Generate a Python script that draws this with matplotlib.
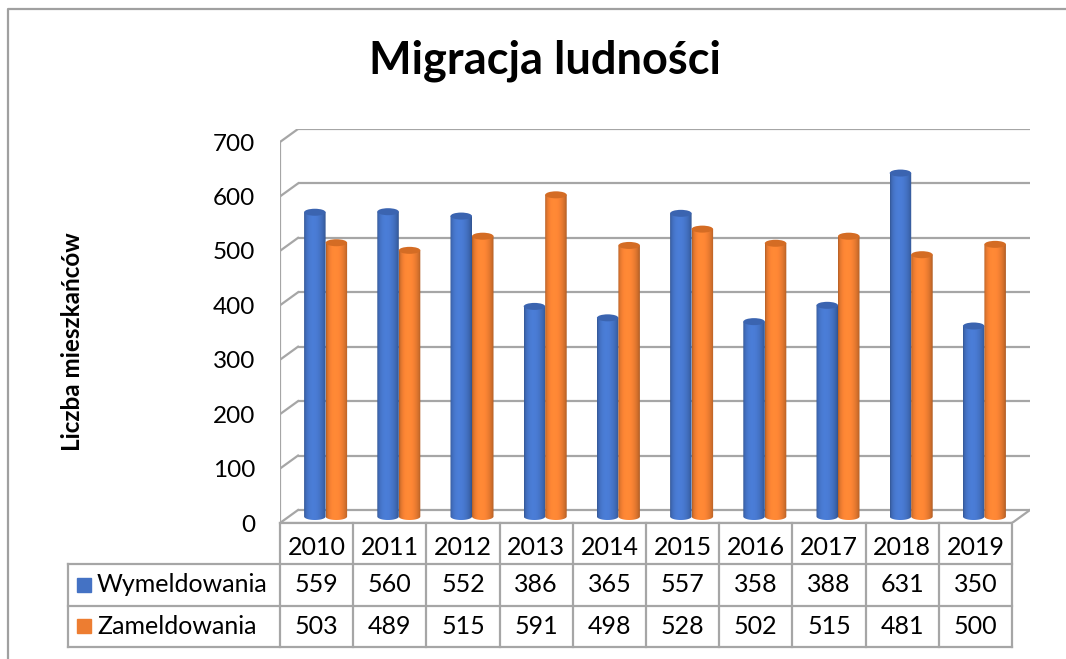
import numpy as np
import matplotlib
matplotlib.use("Agg")
import matplotlib.pyplot as plt
from matplotlib.patches import Ellipse, PathPatch
from matplotlib.path import Path
from matplotlib.lines import Line2D
from matplotlib.colors import to_rgb

plt.rcParams['font.family'] = ['Lato', 'DejaVu Sans']

# dane
lata = ['2010', '2011', '2012', '2013', '2014', '2015', '2016', '2017', '2018', '2019']
wymeldowania = [559, 560, 552, 386, 365, 557, 358, 388, 631, 350]
zameldowania = [503, 489, 515, 591, 498, 528, 502, 515, 481, 500]
serie = ['Wymeldowania', 'Zameldowania']
kolory = ['#4472C4', '#ED7D31']
kolory_gora = ['#3b64b0', '#d46c24']
osie_y = [0, 100, 200, 300, 400, 500, 600, 700]

W, H = 1066, 659
fig = plt.figure(figsize=(W / 100, H / 100), dpi=100)

# obszar wykresu (piksele -> ulamki figury)
L, R, T, B = 280, 1030, 129, 523
ax = fig.add_axes([L / W, 1 - B / H, (R - L) / W, (B - T) / H])
ax.set_facecolor('none')

px_x = 73.2                      # pikseli na kategorie
DX = 18 / px_x                   # glebokosc w jednostkach x
px_y = (B - T) / 723.9
DY = 13 / px_y                   # glebokosc w jednostkach y
EH = 7 / px_y                    # wysokosc elipsy
szer = 21.5 / px_x               # szerokosc walca

szary = '#a6a6a6'
lw = 1.6
n = len(lata)

# siatka na tylnej scianie + lewa sciana
for v in osie_y:
    ax.plot([DX, n + DX], [v, v], color=szary, lw=lw, zorder=1, solid_capstyle='butt')
    ax.plot([0, DX], [v - DY, v], color=szary, lw=lw, zorder=1)
ax.plot([0, 0], [-DY, 700 - DY], color=szary, lw=lw, zorder=1)
ax.plot([0, n], [-DY, -DY], color=szary, lw=lw, zorder=1)
ax.plot([n, n + DX], [-DY, 0], color=szary, lw=lw, zorder=1)

# cieniowanie walca
t = np.linspace(0, 1, 64)
f = 0.70 + 0.40 * np.sin(np.pi * t ** 0.8) ** 0.6


def walec(xc, wartosc, kolor, kolor_gory, z):
    y0 = -DY / 2
    y1 = wartosc - DY / 2
    x0, x1 = xc - szer / 2, xc + szer / 2
    kat = np.linspace(np.pi, 2 * np.pi, 30)
    dol = np.column_stack([xc + szer / 2 * np.cos(kat), y0 + EH / 2 * np.sin(kat)])
    wierz = np.vstack([[x0, y1], dol, [x1, y1], [x0, y1]])
    patch = PathPatch(Path(wierz), facecolor='none', edgecolor='none')
    ax.add_patch(patch)
    rgb = np.clip(np.array(to_rgb(kolor))[None, :] * f[:, None], 0, 1)
    img = ax.imshow(rgb[None, :, :], extent=(x0, x1, y0 - EH, y1), aspect='auto',
                    interpolation='bicubic', zorder=z)
    img.set_clip_path(patch)
    ax.add_patch(Ellipse((xc, y1), szer, EH, facecolor=kolor_gory, edgecolor='none', zorder=z + 0.1))


for i in range(n):
    srodek = i + 0.5 + DX / 2
    walec(srodek - szer / 2, wymeldowania[i], kolory[0], kolory_gora[0], 3)
    walec(srodek + szer / 2, zameldowania[i], kolory[1], kolory_gora[1], 3.5)

ax.set_xlim(0, n + DX)
ax.set_ylim(-DY, 700)
for s in ax.spines.values():
    s.set_visible(False)
ax.set_xticks([])
ax.set_yticks([v - DY for v in osie_y])
ax.set_yticklabels([str(v) for v in osie_y], fontsize=17.5)
ax.tick_params(axis='y', length=0, pad=18)

# tabela danych
TL, TR, TT, TB = 68, 1012, 523, 647
tx = fig.add_axes([TL / W, 1 - TB / H, (TR - TL) / W, (TB - TT) / H])
lewo = -(L - TL) / px_x
tx.set_xlim(lewo, n)
tx.set_ylim(3, 0)
tx.axis('off')
for i in range(n + 1):
    tx.plot([i, i], [0, 3], color=szary, lw=lw, clip_on=False)
tx.plot([lewo, lewo], [1, 3], color=szary, lw=lw, clip_on=False)
tx.plot([0, n], [0, 0], color=szary, lw=lw, clip_on=False)
for r in [1, 2, 3]:
    tx.plot([lewo, n], [r, r], color=szary, lw=lw, clip_on=False)
for i, rok in enumerate(lata):
    tx.text(i + 0.5, 0.6, rok, ha='center', va='center', fontsize=18)
    tx.text(i + 0.5, 1.5, str(wymeldowania[i]), ha='center', va='center', fontsize=18)
    tx.text(i + 0.5, 2.5, str(zameldowania[i]), ha='center', va='center', fontsize=18)
for r, (nazwa, kol) in enumerate(zip(serie, kolory)):
    tx.plot([(84 - L) / px_x], [1.5 + r], marker='s', ms=10.5, color=kol, clip_on=False)
    tx.text((97 - L) / px_x, 1.5 + r, nazwa, ha='left', va='center', fontsize=18)

# tytul i opis osi
fig.text(545 / W, 1 - 61 / H, 'Migracja ludności', ha='center', va='center',
         fontsize=32.5, fontweight='bold')
fig.text(72 / W, 1 - 342 / H, 'Liczba mieszkańców', ha='center', va='center',
         rotation=90, fontsize=17.5, fontweight='bold')

# ramka wykresu
fig.add_artist(Line2D([8 / W, 8 / W, 1], [0, 1 - 9 / H, 1 - 9 / H],
                      transform=fig.transFigure, color='#a0a0a0', lw=1.6))

fig.savefig('out.png', dpi=100)
